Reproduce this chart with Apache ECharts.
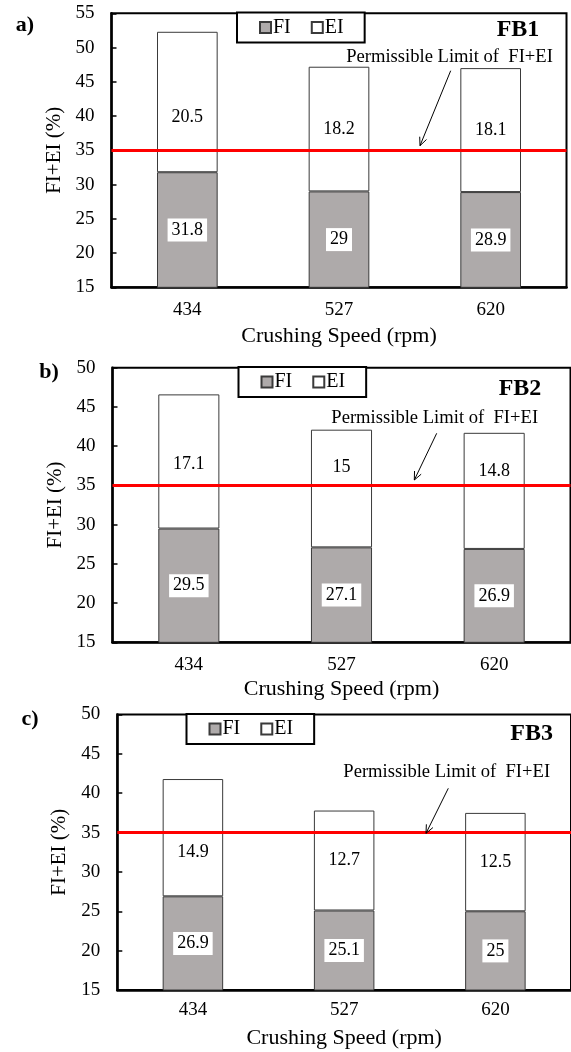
<!DOCTYPE html>
<html>
<head>
<meta charset="utf-8">
<script src="https://cdn.jsdelivr.net/npm/echarts@6/dist/echarts.min.js"></script>
<style>
  html, body { margin: 0; padding: 0; background: #fff; }
  #chart { width: 571px; height: 1052px; }
</style>
</head>
<body>
<div id="chart"></div>
<script>
// ---- data ----
const categories = ['434', '527', '620'];
const fb1FI = [31.8, 29, 28.9];
const fb1EI = [20.5, 18.2, 18.1];
const fb2FI = [29.5, 27.1, 26.9];
const fb2EI = [17.1, 15, 14.8];
const fb3FI = [26.9, 25.1, 25];
const fb3EI = [14.9, 12.7, 12.5];
const limitValue = 35;
const yMin = 15;
const yMaxes = [55, 50, 50];
const yInterval = 5;
const panelNames = ['FB1', 'FB2', 'FB3'];
const panelLetters = ['a)', 'b)', 'c)'];
const limitText = 'Permissible Limit of  FI+EI';
const xTitle = 'Crushing Speed (rpm)';
const yTitle = 'FI+EI (%)';

const FONT = "'Liberation Serif', 'Times New Roman', serif";
const chart = echarts.init(document.getElementById('chart'), null, { renderer: 'canvas' });

const panels = [
  { fi: fb1FI, ei: fb1EI, grid: { left: 111.5, top: 13.3, width: 455, height: 274 },
    xLabelMargin: 13, xNameGap: 38, yNameGap: 35, eiOffsets: [15, 0, 0],
    legend: { left: 237, top: 12.5 }, name: { x: 518, y: 30 }, letter: { x: 25, y: 25 },
    limitTxt: { x: 449.5, y: 57 }, arrow: [450.7, 70.7, 420, 145.7] },
  { fi: fb2FI, ei: fb2EI, grid: { left: 112.5, top: 367.7, width: 458, height: 274.6 },
    xLabelMargin: 13, xNameGap: 36, yNameGap: 35, eiOffsets: [3, -21, -20],
    legend: { left: 238.5, top: 367 }, name: { x: 520, y: 388.3 }, letter: { x: 49, y: 372 },
    limitTxt: { x: 434.7, y: 417.7 }, arrow: [436.7, 433.3, 414.3, 480] },
  { fi: fb3FI, ei: fb3EI, grid: { left: 117.3, top: 714.5, width: 455, height: 275.5 },
    xLabelMargin: 11, xNameGap: 37, yNameGap: 35, eiOffsets: [15, 0, 0],
    legend: { left: 186.5, top: 714 }, name: { x: 531.7, y: 733.3 }, letter: { x: 30, y: 719.5 },
    limitTxt: { x: 446.7, y: 771.7 }, arrow: [448.3, 788.3, 426, 833.3] }
];

const grids = [], xAxes = [], yAxes = [], series = [], legends = [], graphics = [];

panels.forEach((p, i) => {
  grids.push(Object.assign({ show: true, borderColor: '#000', borderWidth: 2, backgroundColor: 'transparent' }, p.grid));
  xAxes.push({
    type: 'category', gridIndex: i, data: categories,
    axisLine: { lineStyle: { color: '#000', width: 2.5 } },
    axisTick: { show: false },
    axisLabel: { color: '#000', fontFamily: FONT, fontSize: 19, margin: p.xLabelMargin },
    name: xTitle, nameLocation: 'middle', nameGap: p.xNameGap,
    nameTextStyle: { color: '#000', fontFamily: FONT, fontSize: 22 }
  });
  yAxes.push({
    type: 'value', gridIndex: i, min: yMin, max: yMaxes[i], interval: yInterval,
    axisLine: { show: true, lineStyle: { color: '#000', width: 2.5 } },
    axisTick: { show: true, inside: true, length: 5, lineStyle: { color: '#000', width: 1.5 } },
    splitLine: { show: false },
    axisLabel: { color: '#000', fontFamily: FONT, fontSize: 19, margin: 17 },
    name: yTitle, nameLocation: 'middle', nameGap: p.yNameGap,
    nameTextStyle: { color: '#000', fontFamily: FONT, fontSize: 21 }
  });
  series.push({
    name: 'FI', type: 'bar', stack: 's' + i, xAxisIndex: i, yAxisIndex: i,
    barWidth: '40%',
    data: p.fi,
    itemStyle: { color: '#aeaaaa', borderColor: '#3a3a3a', borderWidth: 1 },
    label: {
      show: true, position: 'inside', color: '#000', fontFamily: FONT, fontSize: 18,
      backgroundColor: '#fff', padding: [3, 4, 2, 4]
    }
  });
  series.push({
    name: 'EI', type: 'bar', stack: 's' + i, xAxisIndex: i, yAxisIndex: i,
    barWidth: '40%',
    data: p.ei.map((v, k) => ({ value: v, label: { offset: [0, p.eiOffsets[k]] } })),
    itemStyle: { color: '#ffffff', borderColor: '#3a3a3a', borderWidth: 1 },
    label: { show: true, position: 'inside', color: '#000', fontFamily: FONT, fontSize: 18 },
    markLine: {
      silent: true, symbol: 'none', animation: false,
      lineStyle: { color: '#ff0000', width: 3, type: 'solid' },
      label: { show: false },
      data: [{ yAxis: limitValue }]
    },
    z: 3
  });
  legends.push({
    left: p.legend.left, top: p.legend.top,
    data: ['FI', 'EI'], selectedMode: false,
    icon: 'rect', itemWidth: 11, itemHeight: 11, itemGap: 20,
    padding: [5, 21, 5, 22],
    borderColor: '#000', borderWidth: 2, backgroundColor: '#fff',
    textStyle: { color: '#000', fontFamily: FONT, fontSize: 20, padding: [0, 0, 0, -3] }
  });
  graphics.push({
    type: 'text', x: p.name.x, y: p.name.y, z: 100,
    style: { text: panelNames[i], fill: '#000', font: 'bold 24px ' + FONT, textAlign: 'center', textVerticalAlign: 'middle' }
  });
  graphics.push({
    type: 'text', x: p.letter.x, y: p.letter.y, z: 100,
    style: { text: panelLetters[i], fill: '#000', font: 'bold 22px ' + FONT, textAlign: 'center', textVerticalAlign: 'middle' }
  });
  graphics.push({
    type: 'text', x: p.limitTxt.x, y: p.limitTxt.y, z: 100,
    style: { text: limitText, fill: '#000', font: '18.6px ' + FONT, textAlign: 'center', textVerticalAlign: 'middle' }
  });
  const [x1, y1, x2, y2] = p.arrow;
  const ang = Math.atan2(y2 - y1, x2 - x1);
  const hl = 9, ha = 0.42;
  graphics.push({
    type: 'line', z: 100, shape: { x1, y1, x2, y2 }, style: { stroke: '#000', lineWidth: 1 }
  });
  graphics.push({
    type: 'polyline', z: 100,
    shape: { points: [
      [x2 - hl * Math.cos(ang - ha), y2 - hl * Math.sin(ang - ha)],
      [x2, y2],
      [x2 - hl * Math.cos(ang + ha), y2 - hl * Math.sin(ang + ha)]
    ] },
    style: { stroke: '#000', lineWidth: 1, fill: null }
  });
});

chart.setOption({
  animation: false,
  backgroundColor: '#fff',
  grid: grids, xAxis: xAxes, yAxis: yAxes, series: series, legend: legends,
  graphic: graphics
});
</script>
</body>
</html>
